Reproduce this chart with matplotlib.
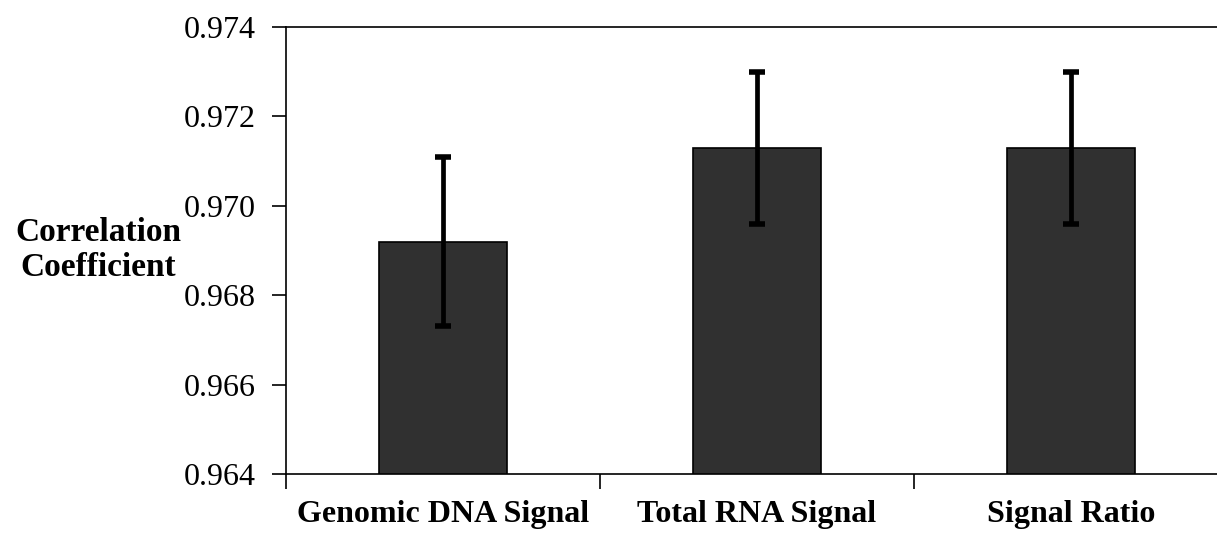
import matplotlib
matplotlib.use('Agg')
from matplotlib import pyplot as plt
import numpy as np

# data
categories = ['Genomic DNA Signal', 'Total RNA Signal', 'Signal Ratio']
corr_coef = [0.9692, 0.9713, 0.9713]
corr_err = [0.0019, 0.0017, 0.0017]
y_ticks = [0.964, 0.966, 0.968, 0.970, 0.972, 0.974]

plt.rcParams['font.family'] = ['Liberation Serif', 'DejaVu Serif']

fig = plt.figure(figsize=(12.17, 5.36), dpi=100)
ax = fig.add_axes([0.235, 0.1157, 0.774, 0.834])

x = np.arange(len(categories))
ax.bar(x, corr_coef, width=0.41, color='#303030', edgecolor='black', linewidth=1.2,
       yerr=corr_err, error_kw=dict(ecolor='black', elinewidth=3.4, capsize=5.5,
                                    capthick=4, zorder=3))

ax.set_ylim(0.964, 0.974)
ax.set_yticks(y_ticks)
ax.set_yticklabels(['%.3f' % t for t in y_ticks], fontsize=23)
ax.set_xlim(-0.5, 2.5)

# ticks sit on the category boundaries, labels in the middle
ax.set_xticks([-0.5, 0.5, 1.5, 2.5])
ax.set_xticklabels([])
ax.set_xticks(x, minor=True)
ax.set_xticklabels(categories, minor=True, fontsize=23, fontweight='bold')
ax.tick_params(axis='x', which='minor', length=0, pad=19)
ax.tick_params(axis='x', which='major', length=11, width=1.2, direction='out')
ax.tick_params(axis='y', length=10, width=1.2, direction='out', pad=12)

for side in ['left', 'bottom', 'top', 'right']:
    ax.spines[side].set_linewidth(1.2)

fig.text(98 / 1217, 1 - 250 / 536, 'Correlation\nCoefficient', fontsize=24,
         fontweight='bold', ha='center', va='center', multialignment='center')

fig.savefig('out.png', dpi=100)
